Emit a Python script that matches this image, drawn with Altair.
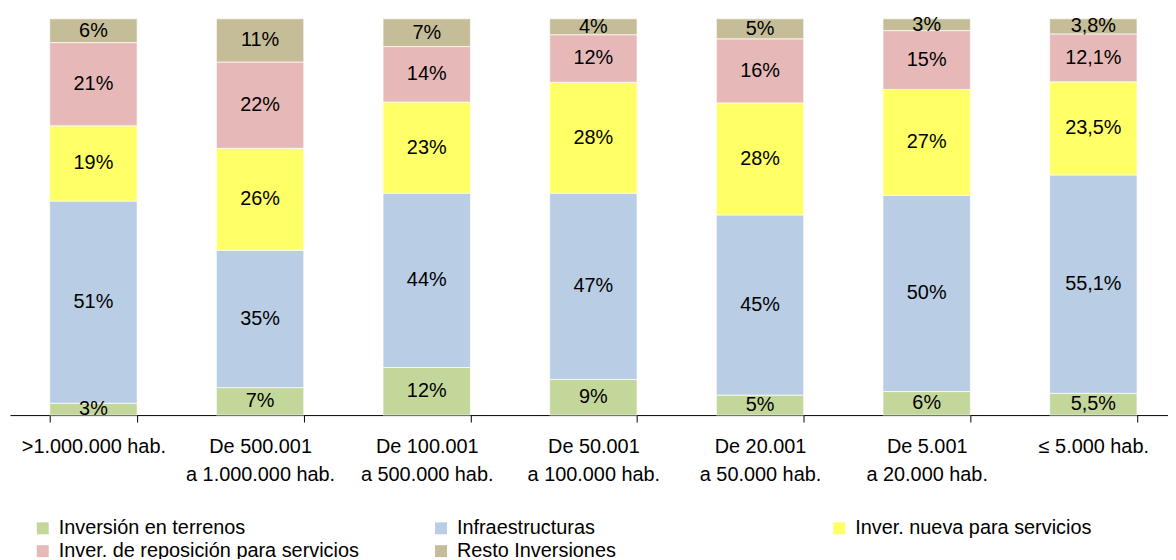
import altair as alt
import pandas as pd

categories = [
    ">1.000.000 hab.",
    "De 500.001\na 1.000.000 hab.",
    "De 100.001\na 500.000 hab.",
    "De 50.001\na 100.000 hab.",
    "De 20.001\na 50.000 hab.",
    "De 5.001\na 20.000 hab.",
    "≤ 5.000 hab.",
]
series = [
    "Inversión en terrenos",
    "Infraestructuras",
    "Inver. nueva para servicios",
    "Inver. de reposición para servicios",
    "Resto Inversiones",
]
terrenos = [3, 7, 12, 9, 5, 6, 5.5]
infraestructuras = [51, 35, 44, 47, 45, 50, 55.1]
nueva = [19, 26, 23, 28, 28, 27, 23.5]
reposicion = [21, 22, 14, 12, 16, 15, 12.1]
resto = [6, 11, 7, 4, 5, 3, 3.8]
colors = ["#C4D79B", "#B9CDE5", "#FFFF66", "#E6B9B8", "#C4BD97"]

rows = []
for si, (name, vals) in enumerate(zip(series, [terrenos, infraestructuras, nueva, reposicion, resto])):
    for ci, (cat, v) in enumerate(zip(categories, vals)):
        rows.append({
            "cat": cat,
            "serie": name,
            "order": si,
            "value": v,
            "lbl": f"{v:g}".replace(".", ",") + "%",
        })
df = pd.DataFrame(rows)

FONT = "Liberation Sans"

xscale = alt.Scale(paddingInner=0.4756, paddingOuter=0.2122, align=0.562, round=False)

xenc = alt.X(
    "cat:N",
    sort=categories,
    title=None,
    scale=xscale,
    axis=alt.Axis(
        labelExpr="split(datum.label, '\\n')",
        labelAngle=0,
        labelFont=FONT,
        labelFontSize=20,
        labelColor="#000000",
        labelLineHeight=28,
        labelPadding=15,
        tickBand="extent",
        tickSize=7,
        tickColor="#000000",
        domainColor="#000000",
        domainWidth=1,
        tickWidth=1,
        grid=False,
    ),
)

base = alt.Chart(df).transform_stack(
    stack="value",
    groupby=["cat"],
    as_=["y0", "y1"],
    offset="normalize",
    sort=[alt.SortField("order", order="ascending")],
).transform_calculate(mid="(datum.y0 + datum.y1) / 2")

yscale = alt.Scale(domain=[0, 1], nice=False, zero=True)

bars = base.mark_bar(stroke="white", strokeWidth=0.7).encode(
    x=xenc,
    y=alt.Y("y0:Q", scale=yscale, axis=None),
    y2="y1:Q",
    color=alt.Color(
        "serie:N",
        scale=alt.Scale(domain=series, range=colors),
        legend=alt.Legend(
            title=None,
            orient="none",
            direction="horizontal",
            legendX=23,
            legendY=503,
            columns=3,
            gridAlign="all",
            columnPadding=72,
            rowPadding=3,
            symbolType="square",
            symbolSize=144,
            symbolStrokeWidth=0,
            symbolOffset=0,
            labelOffset=6,
            labelFont=FONT,
            labelFontSize=20,
            labelColor="#000000",
            labelLimit=400,
            padding=0,
        ),
    ),
)

texts = base.mark_text(font=FONT, fontSize=20, color="#000000", baseline="middle").encode(
    x=alt.X("cat:N", sort=categories, scale=xscale),
    y=alt.Y("mid:Q", scale=yscale),
    text="lbl:N",
)

chart = alt.layer(bars, texts).properties(
    width=1166,
    height=399,
    autosize=alt.AutoSizeParams(type="none"),
    padding={"left": 2, "top": 9, "right": 0, "bottom": 143},
).configure_view(stroke=None)

chart.save("out.html", embed_options={"renderer": "svg", "actions": False})
